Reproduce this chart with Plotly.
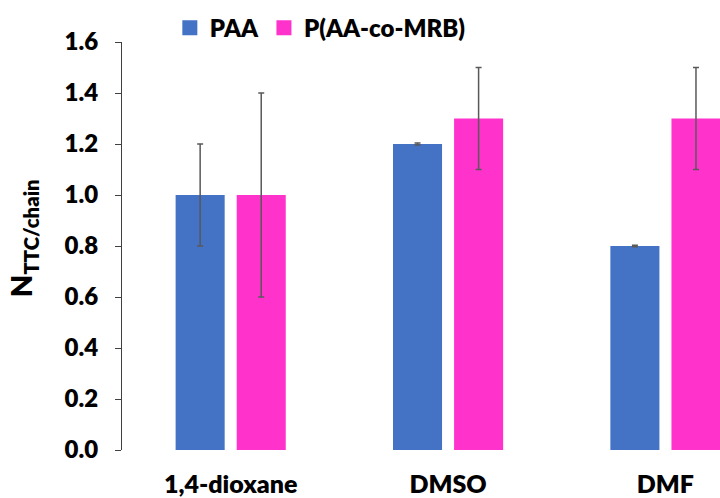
import plotly.graph_objects as go

# Solvents on the x axis
solvents = ["1,4-dioxane", "DMSO", "DMF"]

# Number of TTC groups per chain, with standard deviations
paa_values = [1.0, 1.2, 0.8]
paa_errors = [0.2, 0.004, 0.003]
mrb_values = [1.0, 1.3, 1.3]
mrb_errors = [0.4, 0.2, 0.2]

y_ticks = [0.0, 0.2, 0.4, 0.6, 0.8, 1.0, 1.2, 1.4, 1.6]
y_tick_labels = ["0.0", "0.2", "0.4", "0.6", "0.8", "1.0", "1.2", "1.4", "1.6"]

FONT = "Lato"
BLUE = "#4472C4"
PINK = "#FF33CC"
err_style = dict(type="data", visible=True, color="#595959", thickness=1.5, width=3)

fig = go.Figure()
fig.add_trace(go.Bar(
    name="PAA", x=solvents, y=paa_values, showlegend=False,
    marker=dict(color=BLUE, line=dict(width=0)),
    error_y=dict(array=paa_errors, **err_style),
))
fig.add_trace(go.Bar(
    name="P(AA-co-MRB)", x=solvents, y=mrb_values, showlegend=False,
    marker=dict(color=PINK, line=dict(width=0)),
    error_y=dict(array=mrb_errors, **err_style),
))

# Legend entries with larger square swatches
for name, color in [("PAA", BLUE), ("P(AA-co-MRB)", PINK)]:
    fig.add_trace(go.Scatter(
        name=name, x=[None], y=[None], mode="markers",
        marker=dict(symbol="square", size=15, color=color),
    ))

fig.update_layout(
    width=720, height=498,
    margin=dict(l=122, r=0, t=42, b=48),
    paper_bgcolor="white", plot_bgcolor="white",
    barmode="group", bargap=0.438, bargroupgap=0.197,
    font=dict(family=FONT, size=24, color="black", weight=800),
    showlegend=True,
    legend=dict(
        orientation="h", x=0.08, xanchor="left", y=1.034, yanchor="middle",
        font=dict(family=FONT, size=24, color="black", weight=800),
        bgcolor="rgba(0,0,0,0)", itemclick=False,
    ),
    xaxis=dict(
        range=[-0.5, 2.251], showline=False, ticks="", showgrid=False,
        tickfont=dict(family=FONT, size=25, color="black", weight=800),
        ticklabelstandoff=17, automargin=False,
    ),
    yaxis=dict(
        range=[0, 1.6], showline=True, linecolor="#404040", linewidth=1,
        ticks="outside", ticklen=6, tickcolor="#404040", showgrid=False,
        zeroline=False, tickvals=y_ticks, ticktext=y_tick_labels,
        tickfont=dict(family=FONT, size=24, color="black", weight=800),
        ticklabelstandoff=12, automargin=False,
    ),
)

fig.add_annotation(
    text="N<sub>TTC/chain</sub>", textangle=-90,
    xref="paper", yref="paper", x=-0.165, y=0.52,
    xanchor="center", yanchor="middle", showarrow=False,
    font=dict(family=FONT, size=29, color="black", weight=800),
)

fig.write_html("out.html")
